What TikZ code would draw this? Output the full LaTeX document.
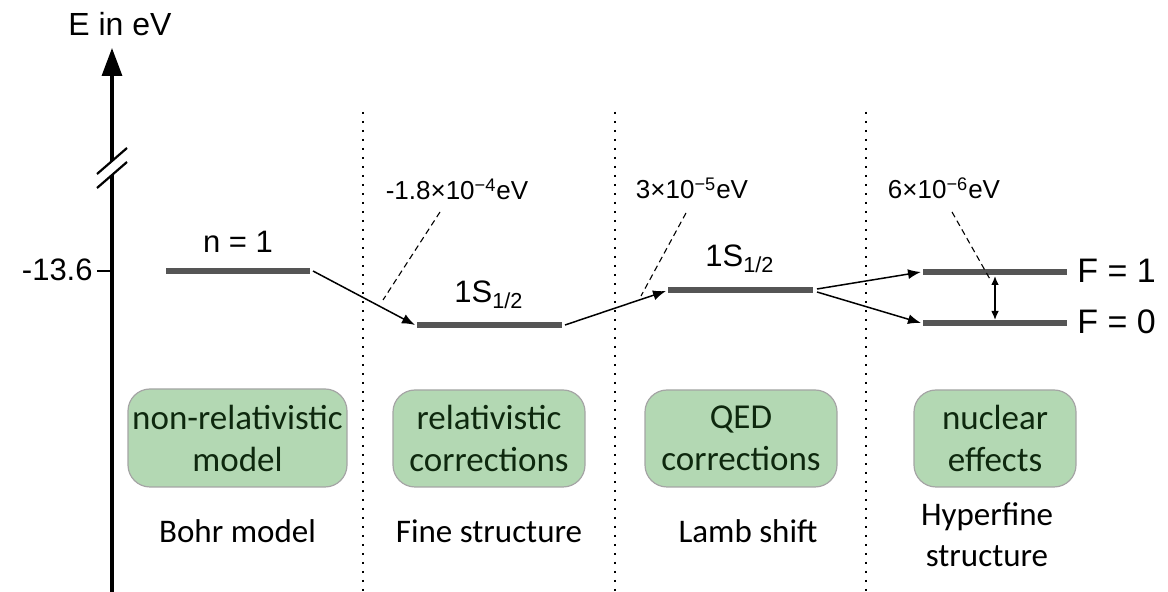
\documentclass[tikz,border=0pt]{standalone}
\usepackage{fontspec}
\setmainfont{Liberation Sans}
\newfontfamily\calib{Carlito}
\usetikzlibrary{arrows.meta}
\definecolor{levelgray}{RGB}{85,85,85}
\definecolor{boxfill}{RGB}{179,216,179}
\definecolor{boxdraw}{RGB}{165,165,165}
\definecolor{boxtext}{RGB}{14,40,14}
\tikzset{
  axisline/.style={line width=1.6pt, black},
  brkline/.style={line width=1.1pt, black},
  levelline/.style={line width=2.6pt, levelgray},
  trans/.style={line width=0.75pt, black, -{Latex[length=6.5pt,width=5pt]}},
  leader/.style={line width=0.55pt, black, dash pattern=on 3pt off 2pt},
  sep/.style={line width=1.2pt, black, dash pattern=on 1.2pt off 3.3pt},
  lvltxt/.style={inner sep=0pt, font=\fontsize{15.5}{18}\selectfont},
  ftxt/.style={inner sep=0pt, font=\fontsize{17}{20}\selectfont},
  smalltxt/.style={inner sep=0pt, font=\fontsize{13}{15}\selectfont},
  greenbox/.style={draw=boxdraw, line width=0.6pt, fill=boxfill, rounded corners=11pt,
    text=boxtext, align=center, inner sep=0pt,
    font=\calib\fontsize{17.5}{21}\selectfont},
  captxt/.style={inner sep=0pt, align=center, font=\calib\fontsize{16.5}{20.5}\selectfont}
}
\begin{document}
\begin{tikzpicture}[x=0.5pt,y=-0.5pt]
\useasboundingbox (0,0) rectangle (1168,592);

% energy axis with break
\coordinate (axB) at (112,592);
\coordinate (brkLo) at (112,175);
\coordinate (brkHi) at (112,161);
\coordinate (axT) at (112,48);
\draw[axisline] (axB) -- (brkLo);
\draw[axisline,-{Triangle[length=14pt,width=10pt]}] (brkHi) -- (axT);
\coordinate (s1a) at (97,174); \coordinate (s1b) at (127,148);
\coordinate (s2a) at (97,188); \coordinate (s2b) at (127,162);
\draw[brkline] (s1a) -- (s1b);
\draw[brkline] (s2a) -- (s2b);
\node[inner sep=0pt, font=\fontsize{16}{19}\selectfont] (elabel) at (120,24) {E in eV};

% tick
\coordinate (tickL) at (97,271);
\coordinate (tickR) at (112,271);
\draw[line width=1.1pt] (tickL) -- (tickR);
\node[lvltxt, anchor=east] (ticklbl) at (93,270) {-13.6};

% separators
\foreach \xx/\nm in {363/a,615/b,866/c}{
  \coordinate (sep\nm T) at (\xx,112);
  \coordinate (sep\nm B) at (\xx,592);
  \draw[sep] (sep\nm T) -- (sep\nm B);
}

% levels
\coordinate (n1L) at (166,271); \coordinate (n1R) at (310,271);
\coordinate (fsL) at (417,325); \coordinate (fsR) at (562,325);
\coordinate (lsL) at (668,290); \coordinate (lsR) at (813,290);
\coordinate (f1L) at (923,272); \coordinate (f1R) at (1067,272);
\coordinate (f0L) at (923,323); \coordinate (f0R) at (1067,323);
\draw[levelline] (n1L) -- (n1R);
\draw[levelline] (fsL) -- (fsR);
\draw[levelline] (lsL) -- (lsR);
\draw[levelline] (f1L) -- (f1R);
\draw[levelline] (f0L) -- (f0R);

% level labels
\node[lvltxt, anchor=base] (n1lbl) at (238,253) {n = 1};
\node[lvltxt, anchor=base] (fslbl) at (489,303) {1S\textsubscript{1/2}};
\node[lvltxt, anchor=base] (lslbl) at (740,267) {1S\textsubscript{1/2}};
\node[ftxt, anchor=west] (f1lbl) at (1077,271) {F = 1};
\node[ftxt, anchor=west] (f0lbl) at (1077,322) {F = 0};

% transitions
\coordinate (t1s) at (313,271); \coordinate (t1e) at (415,325);
\coordinate (t2s) at (565,325); \coordinate (t2e) at (666,291);
\coordinate (t3s) at (817,289); \coordinate (t3e) at (921,272);
\coordinate (t4s) at (817,292); \coordinate (t4e) at (921,323);
\draw[trans] (t1s) -- (t1e);
\draw[trans] (t2s) -- (t2e);
\draw[trans] (t3s) -- (t3e);
\draw[trans] (t4s) -- (t4e);

% hyperfine splitting
\coordinate (hfT) at (995,276); \coordinate (hfB) at (995,320);
\draw[line width=0.7pt, {Latex[length=4.5pt,width=3.8pt]}-{Latex[length=4.5pt,width=3.8pt]}] (hfT) -- (hfB);

% energy shift labels with leaders
\node[smalltxt, anchor=base] (dE1) at (457,200) {-1.8×10\textsuperscript{−4}eV};
\node[smalltxt, anchor=base] (dE2) at (692,199) {3×10\textsuperscript{−5}eV};
\node[smalltxt, anchor=base] (dE3) at (944,199) {6×10\textsuperscript{−6}eV};
\coordinate (l1a) at (440,212); \coordinate (l1b) at (383,300);
\coordinate (l2a) at (686,213); \coordinate (l2b) at (641,296);
\coordinate (l3a) at (952,212); \coordinate (l3b) at (991,281);
\draw[leader] (l1a) -- (l1b);
\draw[leader] (l2a) -- (l2b);
\draw[leader] (l3a) -- (l3b);

% model boxes
\node[greenbox, minimum width=109.5pt, minimum height=49pt] (b1) at (237.5,438) {non-relativistic\\model};
\node[greenbox, minimum width=96pt, minimum height=48.5pt] (b2) at (489,438.5) {relativistic\\corrections};
\node[greenbox, minimum width=96pt, minimum height=48.5pt] (b3) at (741,438.5) {QED\\corrections};
\node[greenbox, minimum width=81pt, minimum height=48.5pt] (b4) at (995,438.5) {nuclear\\effects};

% captions
\node[captxt, anchor=base] (c1) at (237.5,543) {Bohr model};
\node[captxt, anchor=base] (c2) at (489,543) {Fine structure};
\node[captxt, anchor=base] (c3) at (748,543) {Lamb shift};
\node[captxt] (c4) at (987,535) {Hyperfine\\structure};
\end{tikzpicture}
\end{document}
